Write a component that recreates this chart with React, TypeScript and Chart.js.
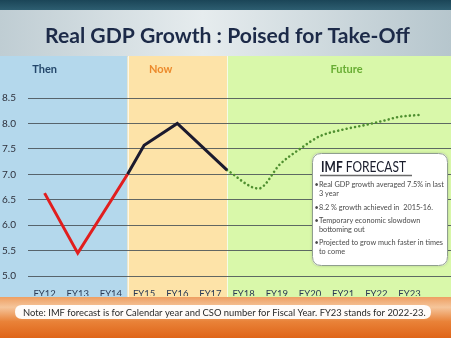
import React, { useEffect, useRef } from 'react';
import { Chart, registerables } from 'chart.js';

Chart.register(...registerables);

// ---- data ----
const fyLabels = ['FY12', 'FY13', 'FY14', 'FY15', 'FY16', 'FY17', 'FY18', 'FY19', 'FY20', 'FY21', 'FY22', 'FY23'];
const fyStart = 12;

const thenX = [12, 13, 14, 14.5];
const thenY = [6.63, 5.45, 6.48, 7.0];
const nowX = [14.5, 15, 16, 17.5];
const nowY = [7.0, 7.57, 8.0, 7.08];
const futureX = [17.5, 18.45, 19.1, 19.7, 20.3, 21.0, 21.6, 22.2, 22.7, 23.35];
const futureY = [7.08, 6.72, 7.2, 7.5, 7.75, 7.88, 7.96, 8.05, 8.13, 8.17];

const eraNames = ['Then', 'Now', 'Future'];
const eraBounds = [14.5, 17.5];
const eraLabelX = [12, 15.5, 21.1];
const eraColors = ['#b4d8ec', '#fde3a8', '#d9f8aa'];
const eraTextColors = ['#24476b', '#ec8a2c', '#68ad33'];

const titleText = 'Real GDP Growth : Poised for Take-Off';
const noteText = 'Note: IMF forecast is for Calendar year and CSO number for Fiscal Year. FY23 stands for 2022-23.';
const imfTitleBold = 'IMF';
const imfTitleRest = ' FORECAST';
const imfBullets = [
  ['Real GDP growth averaged 7.5% in last', '3 year'],
  ['8.2 % growth achieved in  2015-16.'],
  ['Temporary economic slowdown', 'bottoming out'],
  ['Projected to grow much faster in times', 'to come'],
];

const pts = (xs: number[], ys: number[]) => xs.map((x, i) => ({ x, y: ys[i] }));

function roundRect(ctx: CanvasRenderingContext2D, x: number, y: number, w: number, h: number, r: number) {
  ctx.beginPath();
  ctx.moveTo(x + r, y);
  ctx.lineTo(x + w - r, y);
  ctx.quadraticCurveTo(x + w, y, x + w, y + r);
  ctx.lineTo(x + w, y + h - r);
  ctx.quadraticCurveTo(x + w, y + h, x + w - r, y + h);
  ctx.lineTo(x + r, y + h);
  ctx.quadraticCurveTo(x, y + h, x, y + h - r);
  ctx.lineTo(x, y + r);
  ctx.quadraticCurveTo(x, y, x + r, y);
  ctx.closePath();
}

function fitSize(ctx: CanvasRenderingContext2D, text: string, weight: string, target: number, base: number) {
  ctx.font = `${weight} ${base}px Lato`;
  const w = ctx.measureText(text).width;
  return base * (target / w);
}

const backgroundPlugin = {
  id: 'infographicBg',
  beforeDraw(chart: any) {
    const ctx: CanvasRenderingContext2D = chart.ctx;
    const W = chart.width;
    const H = chart.height;
    const xs = chart.scales.x;
    ctx.save();
    // header
    const hg = ctx.createLinearGradient(0, 0, W, 0);
    hg.addColorStop(0, '#bfcdd3');
    hg.addColorStop(0.45, '#e6ecee');
    hg.addColorStop(1, '#b6c6cd');
    ctx.fillStyle = hg;
    ctx.fillRect(0, 0, W, 57);
    const tg = ctx.createLinearGradient(0, 0, 0, 11);
    tg.addColorStop(0, '#1b4557');
    tg.addColorStop(1, '#2f6073');
    ctx.fillStyle = tg;
    ctx.fillRect(0, 0, W, 10);

    // title
    const ts = fitSize(ctx, titleText, 'bold', 365, 20);
    ctx.font = `bold ${ts}px Lato`;
    ctx.fillStyle = '#1c2a48';
    ctx.textAlign = 'left';
    ctx.textBaseline = 'alphabetic';
    ctx.fillText(titleText, 45, 43);

    // era panels
    const edges = [0, ...eraBounds.map((b) => xs.getPixelForValue(b)), W];
    const top = 56;
    const bottom = 297;
    for (let i = 0; i < eraNames.length; i++) {
      ctx.fillStyle = eraColors[i];
      ctx.fillRect(edges[i], top, edges[i + 1] - edges[i], bottom - top);
    }
    ctx.strokeStyle = 'rgba(255,255,255,0.7)';
    ctx.lineWidth = 1;
    for (let i = 1; i < edges.length - 1; i++) {
      ctx.beginPath();
      ctx.moveTo(Math.round(edges[i]) + 0.5, top);
      ctx.lineTo(Math.round(edges[i]) + 0.5, bottom);
      ctx.stroke();
    }
    ctx.font = 'bold 11px Lato';
    ctx.textAlign = 'center';
    ctx.textBaseline = 'middle';
    for (let i = 0; i < eraNames.length; i++) {
      ctx.fillStyle = eraTextColors[i];
      ctx.fillText(eraNames[i], xs.getPixelForValue(eraLabelX[i]), 69);
    }

    // bottom band
    const bg = ctx.createLinearGradient(0, bottom, 0, H);
    bg.addColorStop(0, '#ee9f62');
    bg.addColorStop(0.25, '#f5c59b');
    bg.addColorStop(0.6, '#e98238');
    bg.addColorStop(1, '#df6418');
    ctx.fillStyle = bg;
    ctx.fillRect(0, bottom, W, H - bottom);

    // note pill
    ctx.fillStyle = 'rgba(255,255,255,0.95)';
    roundRect(ctx, 15, 305, 416, 14, 7);
    ctx.fill();
    const ns = fitSize(ctx, noteText, 'normal', 403, 10);
    ctx.font = `normal ${ns}px Lato`;
    ctx.fillStyle = '#2a2a2a';
    ctx.textAlign = 'left';
    ctx.textBaseline = 'middle';
    ctx.fillText(noteText, 23, 312.5);
    ctx.restore();
  },
  afterDraw(chart: any) {
    const ctx: CanvasRenderingContext2D = chart.ctx;
    ctx.save();
    const bx = 312, by = 153, bw = 136, bh = 113;
    ctx.shadowColor = 'rgba(0,0,0,0.18)';
    ctx.shadowBlur = 3;
    ctx.fillStyle = '#ffffff';
    roundRect(ctx, bx, by, bw, bh, 9);
    ctx.fill();
    ctx.shadowColor = 'transparent';
    ctx.shadowBlur = 0;
    ctx.strokeStyle = '#8f9e8f';
    ctx.lineWidth = 1;
    roundRect(ctx, bx + 0.5, by + 0.5, bw - 1, bh - 1, 9);
    ctx.stroke();

    ctx.textAlign = 'left';
    ctx.textBaseline = 'alphabetic';
    ctx.fillStyle = '#1a1d2c';
    // condensed heading: full-height glyphs squeezed to the reference width
    ctx.font = 'bold 15px Lato';
    const bw0 = ctx.measureText(imfTitleBold).width;
    ctx.font = 'normal 15px Lato';
    const rw0 = ctx.measureText(imfTitleRest).width;
    const sx = 85 / (bw0 + rw0);
    ctx.save();
    ctx.translate(321, 172);
    ctx.scale(sx, 1);
    ctx.font = 'bold 15px Lato';
    ctx.fillText(imfTitleBold, 0, 0);
    ctx.font = 'normal 15px Lato';
    ctx.fillText(imfTitleRest, bw0, 0);
    ctx.restore();
    ctx.strokeStyle = '#6a6a6a';
    ctx.lineWidth = 1.5;
    ctx.beginPath();
    ctx.moveTo(320, 175.5);
    ctx.lineTo(412, 175.5);
    ctx.stroke();

    ctx.font = 'normal 7.3px Lato';
    ctx.fillStyle = '#4a4a4a';
    const starts = [187, 210, 223, 245];
    imfBullets.forEach((lines, i) => {
      ctx.fillText('•', 314.5, starts[i]);
      lines.forEach((ln, j) => {
        ctx.fillText(ln, 319, starts[i] + j * 8.5);
      });
    });
    ctx.restore();
  },
};

export default function App() {
  const ref = useRef<HTMLCanvasElement>(null);
  useEffect(() => {
    document.body.style.margin = '0';
    const canvas = ref.current!;
    const chart = new Chart(canvas, {
      type: 'line',
      data: {
        datasets: [
          {
            label: 'Then',
            data: pts(thenX, thenY),
            borderColor: '#e11e1e',
            borderWidth: 3,
            pointRadius: 0,
            tension: 0,
          },
          {
            label: 'Now',
            data: pts(nowX, nowY),
            borderColor: '#1b1a2e',
            borderWidth: 3,
            pointRadius: 0,
            tension: 0,
          },
          {
            label: 'Future',
            data: pts(futureX, futureY),
            borderColor: '#4f8f30',
            borderWidth: 2.6,
            borderDash: [0.01, 4.3],
            borderCapStyle: 'round',
            pointRadius: 0,
            cubicInterpolationMode: 'monotone',
          },
        ],
      },
      options: {
        animation: false,
        responsive: false,
        events: [],
        layout: { padding: { top: 98, left: 2, right: 0, bottom: 42 } },
        plugins: { legend: { display: false }, tooltip: { enabled: false } },
        scales: {
          x: {
            type: 'linear',
            min: 11.5,
            max: 24.25,
            afterBuildTicks: (s: any) => {
              s.ticks = fyLabels.map((_, i) => ({ value: fyStart + i }));
            },
            afterFit: (s: any) => {
              s.height = 20;
              s.paddingLeft = 0;
              s.paddingRight = 0;
            },
            ticks: {
              autoSkip: false,
              maxRotation: 0,
              padding: 4,
              color: '#2b3a55',
              font: { family: 'Lato', size: 9.5 },
              callback: (_v: any, i: number) => fyLabels[i],
            },
            grid: { display: false },
            border: { display: false },
          },
          y: {
            min: 5,
            max: 8.5,
            afterFit: (s: any) => {
              s.width = 26;
              s.paddingTop = 0;
              s.paddingBottom = 0;
            },
            ticks: {
              stepSize: 0.5,
              crossAlign: 'far',
              padding: 0,
              color: '#2d2f3a',
              font: { family: 'Lato', size: 10 },
              callback: (v: any) => Number(v).toFixed(1),
            },
            grid: { color: 'rgba(70,80,86,0.85)', lineWidth: 1, drawTicks: false },
            border: { display: false },
          },
        },
      } as any,
      plugins: [backgroundPlugin],
    });
    return () => chart.destroy();
  }, []);
  return (
    <div style={{ position: 'absolute', left: 0, top: 0, width: 451, height: 338 }}>
      <canvas ref={ref} width={451} height={338} style={{ display: 'block', width: 451, height: 338 }} />
    </div>
  );
}
